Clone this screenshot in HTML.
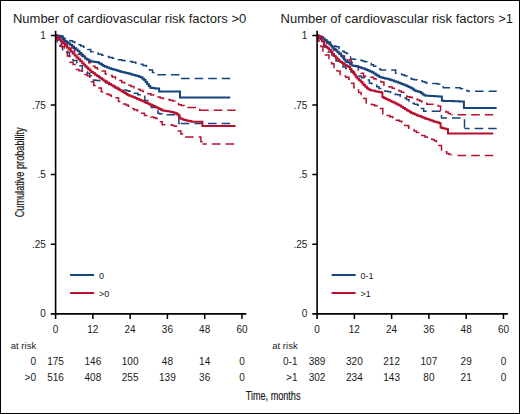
<!DOCTYPE html>
<html><head><meta charset="utf-8"><style>
html,body{margin:0;padding:0;background:#fff;}
svg{display:block;}
text{font-family:"Liberation Sans",sans-serif;fill:#1a1a1a;}
.t10{font-size:10px;}
.t13{font-size:13.05px;}
.t9{font-size:9px;}
.t95{font-size:9.5px;}
.cond{font-size:13.3px;stroke:#1a1a1a;stroke-width:0.2px;}
</style></head><body>
<svg width="520" height="414" viewBox="0 0 520 414">
<rect x="0.5" y="0.5" width="519" height="413" fill="#fff" stroke="#000" stroke-width="1"/>
<g fill="none" stroke-linejoin="miter" stroke-linecap="butt">
<path d="M55.6 35.4H57.2V36.3H60.4V37.3H62.0H63.6V38.5H66.7V39.6H69.8V40.8H71.4H72.5V41.7H74.5V42.6H75.6H77.5V44.8H79.5H80.8V46.0H83.6V47.2H84.9H86.8V49.6H88.7H90.7V51.8H92.6H94.4V53.0H98.2V54.2H100.0H101.8V55.3H105.4V56.4H109.0V57.5H110.8H112.3V58.2H115.5V59.0H118.5V59.7H121.7V60.4H123.2H125.0V61.0H128.6V61.6H132.2V62.2H134.0H135.8V63.3H139.4V64.3H143.0V65.4H144.8H146.4V67.8H149.4V70.1H151.0H152.5V72.4H155.6V74.7H157.1H180.0V78.5" stroke="#15457e" stroke-width="1.5" stroke-dasharray="8.6 5" stroke-dashoffset="8.60"/>
<path d="M180.0 78.5H230.2" stroke="#15457e" stroke-width="1.5" stroke-dasharray="8.6 5" stroke-dashoffset="12.60"/>
<path d="M55.6 35.4H57.2V43.7H58.9H60.1V46.2H61.4H62.6V49.8H63.8H65.7V52.3H67.5H69.3V56.4H73.0V60.5H76.8V64.6H78.6H79.8V65.8H81.1H82.3V70.8H83.5H84.8V72.0H87.2V73.2H88.5H89.7V75.7H90.9H92.2V80.0H93.4H94.6V80.2H96.9V80.5H98.1H99.6V80.8H102.7V81.0H104.2H105.7V82.7H108.7V84.4H110.2H111.7V86.1H114.7V87.8H116.2H117.7V88.6H120.8V89.4H122.3H123.7V90.1H126.6V90.8H128.0H129.1V91.2H131.3V91.7H132.4H134.2V93.2H137.8V94.8H141.4V96.3H143.2H144.8V100.5H147.8V104.8H149.4H151.3V107.5H155.2V110.2H157.1H157.9V113.2H158.7H159.8V114.0H162.2V114.7H163.3H177.0H178.9V123.5H180.8" stroke="#15457e" stroke-width="1.5" stroke-dasharray="8.6 5" stroke-dashoffset="0.00"/>
<path d="M180.8 123.5H230.2" stroke="#15457e" stroke-width="1.5" stroke-dasharray="8.6 5" stroke-dashoffset="0.00"/>
<path d="M55.6 35.4H57.2V37.6H60.3V39.8H63.4V42.0H65.0H66.9V45.0H70.6V47.9H72.5H74.5V51.8H76.4H78.1V54.2H79.8H81.7V56.0H83.5H85.2V59.4H88.7V62.8H92.1V66.2H93.8H95.0V67.7H97.4V69.1H98.6H99.8V70.0H102.2V71.0H103.4H105.3V74.0H107.3H109.0V75.5H112.2V77.0H113.9H115.5V78.8H118.6V80.6H121.7V82.4H123.2H124.7V83.8H127.8V85.2H130.9V86.6H132.4H133.9V87.9H137.1V89.3H140.1V90.6H141.7H142.8V91.5H145.2V92.5H146.3H147.9V93.8H150.9V95.0H152.5H154.1V96.0H157.2V97.0H160.2V98.0H161.8H163.0V98.5H165.2V99.0H166.4H167.6V99.6H169.8V100.2H171.0H172.6V100.9H175.6V101.6H177.2H178.6V104.8H180.0H181.3V105.5H184.1V106.3H185.4H187.4V107.6H189.3H197.8H199.8V110.3H201.7" stroke="#b80f2e" stroke-width="1.5" stroke-dasharray="8.6 5" stroke-dashoffset="0.00"/>
<path d="M201.7 110.3H235.6" stroke="#b80f2e" stroke-width="1.5" stroke-dasharray="8.6 5" stroke-dashoffset="1.60"/>
<path d="M55.6 35.4H56.7V38.7H58.9V42.0H60.0H61.5V46.7H64.4V51.3H67.3V56.0H68.8H70.0V62.2H71.2H73.1V64.6H74.9H76.2V69.5H77.4H78.9V70.8H82.0V72.0H83.5H84.8V74.5H86.0H87.2V75.7H89.7V76.9H90.9H91.4V81.7H91.9H93.8V85.5H95.8H97.7V88.0H99.5H101.3V91.7H103.1H104.2V92.8H106.5V93.9H107.7H108.9V95.1H111.2V96.2H112.4H113.6V97.0H115.8V97.7H117.0H118.5V101.6H120.1H121.2V102.8H123.5V103.9H124.7H125.9V105.1H128.2V106.2H129.3H130.9V108.5H132.4H133.9V109.7H137.1V110.8H138.6H140.6V113.2H142.5H144.4V115.5H146.3H147.9V116.2H150.9V117.0H152.5H153.7V117.8H155.9V118.6H157.1H159.1V121.7H161.0H162.2V124.7H163.3H171.0H172.2V125.5H174.5V126.3H175.7H177.5V130.9H179.3H180.9V134.0H182.4H184.3V137.1H186.2H200.1H200.9V141.7H201.7H202.1V144.0H202.4" stroke="#b80f2e" stroke-width="1.5" stroke-dasharray="8.6 5" stroke-dashoffset="0.00"/>
<path d="M202.4 144.0H235.6" stroke="#b80f2e" stroke-width="1.5" stroke-dasharray="8.6 5" stroke-dashoffset="4.10"/>
<path d="M55.6 35.4H56.4V35.6H57.9V35.8H59.4V36.0H60.9V36.2H61.7H62.7V39.7H63.7H64.6V41.0H66.5V42.3H68.4V43.6H70.3V44.9H71.2H72.1V46.5H74.0V48.0H75.8V49.5H77.7V51.1H78.6H79.5V52.9H81.4V54.8H83.2V56.6H85.1V58.4H86.0H86.9V59.4H88.8V60.4H89.7H90.3V61.0H91.5V61.6H92.1H93.1V61.8H95.1V62.1H97.1V62.3H98.1H98.9V63.2H100.4V64.1H101.9V65.0H103.4V65.9H104.2H105.2V66.7H107.2V67.5H109.2V68.3H110.2H111.2V68.9H113.2V69.5H115.2V70.1H116.2H117.0V70.5H118.5V71.0H120.0V71.5H121.5V71.9H122.3H123.0V72.2H124.5V72.6H126.1V73.0H127.6V73.3H128.3H129.3V73.8H131.3V74.4H133.3V74.9H134.3H135.2V75.5H137.2V76.1H139.1V76.7H140.0H140.8V77.3H141.7H142.5V78.7H144.0V80.1H144.8H145.6V82.0H147.1V84.0H147.9H148.7V85.9H150.2V87.8H151.0H152.0V88.0H153.9V88.2H155.8V88.4H157.7V88.6H158.7H159.1V91.4H159.5H180.0V97.5H230.2" stroke="#15457e" stroke-width="2"/>
<path d="M55.6 35.4H56.2V36.7H57.4V38.0H58.0H59.0V39.8H61.0V41.7H63.0V43.5H64.0H65.0V45.5H66.9V47.5H68.8V49.5H70.8V51.5H72.7V53.5H73.7H74.6V55.4H76.5V57.4H78.4V59.3H80.3V61.3H82.2V63.2H83.1H83.8V64.8H85.3V66.5H86.0H86.8V67.8H88.3V69.2H89.8V70.6H91.3V71.9H92.1H93.1V73.3H95.1V74.7H97.1V76.1H98.1H98.9V77.2H100.4V78.2H101.9V79.3H103.4V80.4H104.2H105.2V81.6H107.2V82.8H109.2V84.0H110.2H111.2V85.2H113.2V86.4H115.2V87.6H116.2H117.0V88.5H118.5V89.4H120.0V90.3H121.5V91.2H122.3H123.0V92.1H124.5V93.1H126.1V94.0H127.6V94.9H128.3H129.3V95.7H131.3V96.5H133.3V97.3H134.3H135.2V98.1H137.2V98.9H139.1V99.7H140.0H140.9V100.5H142.7V101.3H144.5V102.2H146.3V103.0H148.1V103.8H149.0H149.8V104.5H151.6V105.3H153.2V106.0H154.1H154.8V106.7H156.3V107.5H157.8V108.2H158.6H159.4V109.0H161.0V109.8H162.6V110.6H163.4H164.2V110.8H165.9V111.0H167.5V111.3H169.2V111.5H170.0H170.8V111.9H172.3V112.3H173.9V112.8H175.4V113.2H176.2H177.0V114.3H178.5V115.4H179.3H179.7V118.3H180.0H180.9V118.8H182.6V119.4H184.4V120.0H186.1V120.5H187.0H187.8V120.8H189.3V121.1H190.9V121.4H192.4V121.7H193.2H202.4V126.0H235.6" stroke="#b80f2e" stroke-width="2"/>
<path d="M317.1 35.4H319.0V37.4H322.9V39.4H324.8H326.6V42.0H328.5H330.4V45.0H332.2H333.4V45.9H335.9V46.8H337.1H339.0V50.0H340.8H341.9V51.3H344.2V52.6H345.4H346.5V53.5H348.7V54.5H349.8H350.6V59.0H351.3H353.0V59.3H356.3V59.6H358.0H359.4V60.3H362.1V61.0H363.5H364.6V61.7H366.7V62.4H367.8H368.9V63.5H371.2V64.7H372.4H373.6V66.2H375.9V67.8H377.1H378.2V68.9H380.6V70.1H381.7H394.1H395.6V73.2H397.1H398.7V74.0H401.8V74.7H403.3H404.5V75.8H406.8V77.0H408.0H409.1V78.2H411.5V79.3H412.6H414.1V79.7H417.0V80.0H418.5H419.8V80.8H422.4V81.7H423.7H424.8V82.6H426.9V83.5H428.0H435.8H437.3V83.9H440.4V84.3H441.9H443.2V87.8H444.5H459.3H460.4V88.7H462.5V89.5H463.6H464.9V90.4H467.6V91.3H468.9" stroke="#15457e" stroke-width="1.5" stroke-dasharray="8.6 5" stroke-dashoffset="0.00"/>
<path d="M468.9 91.3H496.7" stroke="#15457e" stroke-width="1.5" stroke-dasharray="8.6 5" stroke-dashoffset="7.50"/>
<path d="M317.1 35.4H318.3V38.7H320.8V42.0H322.0H324.0V47.0H328.0V52.0H330.0H332.0V56.5H336.0V61.0H338.0H339.6V64.0H343.0V67.0H344.6H345.8V68.5H348.1V70.1H349.3H351.0V72.0H354.3V74.0H356.0H357.8V75.9H361.4V77.8H363.2H364.4V78.9H366.6V80.1H367.8H369.4V83.2H370.9H372.0V84.0H374.4V84.7H375.5H376.7V86.7H379.0V88.6H380.2H381.4V89.8H383.6V90.9H384.8H385.9V91.3H388.2V91.7H389.4H390.6V92.8H392.9V94.0H394.1H395.2V94.4H397.6V94.8H398.7H400.2V96.3H403.3V97.9H404.9H406.4V99.4H408.0H409.1V101.3H411.5V103.3H412.6H414.3V104.2H417.6V105.2H419.3H420.6V108.6H422.0H423.7V111.2H425.4H441.5V118.1H464.5V128.5" stroke="#15457e" stroke-width="1.5" stroke-dasharray="8.6 5" stroke-dashoffset="0.00"/>
<path d="M464.5 128.5H496.7" stroke="#15457e" stroke-width="1.5" stroke-dasharray="8.6 5" stroke-dashoffset="3.50"/>
<path d="M317.1 35.4H319.1V37.7H323.0V40.0H325.0H326.7V43.3H330.0V46.7H333.3V50.0H335.0H337.0V53.0H341.0V56.0H343.0H344.6V58.0H347.8V60.0H349.4H351.2V62.5H353.1H354.8V66.3H358.3V70.1H360.0H361.2V73.2H363.5V76.3H364.7H366.6V76.8H370.5V77.3H372.4H373.6V78.8H376.0V80.4H377.2H378.4V81.2H380.9V82.0H382.1H383.9V86.4H385.7H387.1V86.7H389.8V87.0H391.1H392.2V88.2H394.3V89.4H395.4H396.6V90.2H399.0V91.0H400.2H401.4V92.3H403.8V93.6H405.0H406.8V96.7H408.6H409.8V97.3H412.3V97.9H413.5H414.7V98.8H417.1V99.7H418.3H419.5V101.0H421.9V102.3H423.1H424.3V103.3H426.8V104.3H428.0H434.1H435.4V105.2H438.0V106.0H439.3H440.6V110.4H441.9H443.2V111.2H445.8V112.1H447.1H448.2V113.4H450.4V114.7H451.5" stroke="#b80f2e" stroke-width="1.5" stroke-dasharray="8.6 5" stroke-dashoffset="0.00"/>
<path d="M451.5 114.7H493.2" stroke="#b80f2e" stroke-width="1.5" stroke-dasharray="8.6 5" stroke-dashoffset="7.50"/>
<path d="M317.1 35.4H318.4V41.0H321.0V46.5H322.3H322.9V53.8H323.5H325.4V55.0H327.2H329.0V60.0H330.9H331.5V63.7H332.2H334.0V67.4H335.8H337.1V71.1H338.3H340.1V74.8H342.0H343.2V76.0H345.7V77.2H346.9H348.9V79.3H350.8H351.6V83.2H352.4H353.9V87.8H355.4H356.4V90.1H358.6V92.4H359.6H361.1V95.4H362.7H363.9V98.5H365.0H366.2V103.9H367.4H368.9V104.3H372.0V104.7H373.5H374.7V105.8H377.0V107.0H378.2H380.1V108.6H382.0H382.8V114.0H383.6H384.8V114.8H387.1V115.5H388.2H389.8V116.7H392.8V117.8H394.4H396.3V120.2H398.2H399.4V121.3H401.7V122.5H402.9H404.8V125.6H406.7H408.6V127.9H410.6H411.8V129.4H414.1V131.0H415.2H416.4V132.5H418.7V134.0H419.9H421.8V135.6H423.7H424.9V137.1H427.2V138.7H428.4H429.6V139.1H432.0V139.5H433.2H434.3V140.8H436.5V142.1H437.6H438.9V145.6H440.2H441.5V150.0H442.8H444.1V151.7H446.7V153.4H448.0H449.1V154.4H451.3V155.5H452.4" stroke="#b80f2e" stroke-width="1.5" stroke-dasharray="8.6 5" stroke-dashoffset="0.00"/>
<path d="M452.4 155.5H493.2" stroke="#b80f2e" stroke-width="1.5" stroke-dasharray="8.6 5" stroke-dashoffset="8.40"/>
<path d="M317.1 35.4H318.0V36.0H319.7V36.6H321.4V37.2H322.3H323.1V38.6H324.6V40.0H326.2V41.4H327.7V42.8H328.5H329.3V44.3H330.8V45.8H332.3V47.4H333.8V48.9H334.6H335.5V50.6H337.4V52.3H339.2V54.0H341.1V55.7H342.0H342.7V57.7H344.1V59.6H345.5V61.6H346.2H347.0V62.0H348.6V62.5H349.4H350.1V64.0H351.6V65.4H352.4H353.1V65.7H354.6V65.9H356.1V66.2H356.8H357.6V66.7H359.2V67.3H360.8V67.8H361.6H362.2V68.2H363.6V68.6H364.2H365.0V69.3H366.7V70.1H368.4V70.8H370.1V71.6H370.9H371.9V72.3H372.8H373.7V73.5H375.6V74.7H377.4V75.8H379.3V77.0H380.2H381.1V77.5H383.0V77.9H384.8V78.4H386.6V78.8H388.5V79.3H389.4H390.3V79.9H392.2V80.5H394.0V81.2H395.9V81.8H397.8V82.4H398.7H399.7V83.2H401.6V84.0H403.5V84.7H405.4V85.5H406.4H407.2V86.3H408.7V87.0H410.3V87.8H411.8V88.6H412.6H413.2V89.5H414.4V90.4H415.0H415.9V91.0H417.6V91.5H419.3V92.1H420.2H421.1V93.3H422.8V94.4H424.5V95.6H425.4H426.4V95.7H428.3V95.8H430.3V95.9H432.2V96.0H434.2V96.2H436.1V96.3H438.1V96.4H440.0V96.5H441.0H441.9V100.8H442.8H443.8V100.9H445.7V100.9H447.6V101.0H449.5V101.1H451.4V101.1H453.4V101.2H455.3V101.2H457.2V101.3H459.1V101.4H461.0V101.4H462.9V101.5H463.9V108.0H496.6" stroke="#15457e" stroke-width="2"/>
<path d="M317.1 35.4H318.1V36.3H320.1V37.2H321.1H322.0V41.2H323.9V45.2H324.8H325.7V46.7H327.4V48.2H329.1V49.7H330.0H330.8V51.8H332.4V53.9H334.0V56.0H334.8H335.6V57.6H337.2V59.2H338.9V60.8H339.7H340.5V61.9H342.1V63.1H343.7V64.2H344.5H345.3V65.2H346.9V66.1H348.5V67.1H349.3H350.0V69.0H351.5V70.9H352.2H352.9V72.8H354.4V74.8H355.1H355.8V76.7H357.3V78.6H358.0H358.9V80.2H360.7V81.8H361.6H362.3V83.4H363.6V85.0H364.3H365.2V86.7H366.9V88.3H367.8H368.4V89.2H369.8V90.0H370.4H371.3V90.4H373.2V90.8H375.1V91.2H376.0H376.6V91.5H377.6V91.8H378.2H379.1V92.1H381.1V92.4H382.0H382.4V97.0H382.8H383.8V98.0H385.7V98.9H387.6V99.8H389.5V100.8H390.5H391.5V101.7H393.4V102.6H395.3V103.5H397.2V104.4H398.2H399.2V105.6H401.1V106.8H403.1V108.1H405.0V109.3H406.0H406.8V110.2H408.3V111.1H409.8V112.0H411.3V112.9H412.1H413.1V113.7H415.1V114.6H417.1V115.4H418.1H418.9V116.0H420.4V116.6H421.9V117.2H423.4V117.8H424.2H425.0V118.4H426.7V119.0H428.4V119.6H430.1V120.2H431.8V120.8H432.6H433.6V121.4H435.4V122.0H437.4V122.6H439.2V123.2H440.2H440.6V127.4H441.1H441.9V127.9H443.5V128.4H445.2V128.8H446.8V129.3H447.6H448.0V133.4H448.3H493.2" stroke="#b80f2e" stroke-width="2"/>
</g>
<path d="M55.60 30.8V318.9M50.80 313.9H246.35" stroke="#000" stroke-width="1.6" fill="none"/>
<path d="M50.80 244.20H55.60M50.80 174.60H55.60M50.80 105.00H55.60M50.80 35.40H55.60M92.87 313.9V318.9M130.14 313.9V318.9M167.41 313.9V318.9M204.68 313.9V318.9M241.95 313.9V318.9" stroke="#000" stroke-width="1.5" fill="none"/>
<text x="45.80" y="317.30" text-anchor="end" class="t10">0</text>
<text x="45.80" y="247.70" text-anchor="end" class="t10">.25</text>
<text x="45.80" y="178.10" text-anchor="end" class="t10">.5</text>
<text x="45.80" y="108.50" text-anchor="end" class="t10">.75</text>
<text x="45.80" y="38.90" text-anchor="end" class="t10">1</text>
<text x="55.60" y="333" text-anchor="middle" class="t10">0</text>
<text x="92.87" y="333" text-anchor="middle" class="t10">12</text>
<text x="130.14" y="333" text-anchor="middle" class="t10">24</text>
<text x="167.41" y="333" text-anchor="middle" class="t10">36</text>
<text x="204.68" y="333" text-anchor="middle" class="t10">48</text>
<text x="241.95" y="333" text-anchor="middle" class="t10">60</text>
<text x="12.90" y="22.6" class="t13" textLength="233.4" lengthAdjust="spacingAndGlyphs">Number of cardiovascular risk factors &gt;0</text>
<path d="M70.10 275H94.10" stroke="#15457e" stroke-width="2"/>
<path d="M70.10 293H94.10" stroke="#b80f2e" stroke-width="2"/>
<text x="98.90" y="278.8" class="t9">0</text>
<text x="98.90" y="296.8" class="t9">&gt;0</text>
<text x="10.80" y="348.6" class="t95">at risk</text>
<text x="36.00" y="365.00" text-anchor="end" class="t10">0</text>
<text x="55.60" y="365.00" text-anchor="middle" class="t10">175</text>
<text x="92.87" y="365.00" text-anchor="middle" class="t10">146</text>
<text x="130.14" y="365.00" text-anchor="middle" class="t10">100</text>
<text x="167.41" y="365.00" text-anchor="middle" class="t10">48</text>
<text x="204.68" y="365.00" text-anchor="middle" class="t10">14</text>
<text x="241.95" y="365.00" text-anchor="middle" class="t10">0</text>
<text x="36.00" y="381.30" text-anchor="end" class="t10">&gt;0</text>
<text x="55.60" y="381.30" text-anchor="middle" class="t10">516</text>
<text x="92.87" y="381.30" text-anchor="middle" class="t10">408</text>
<text x="130.14" y="381.30" text-anchor="middle" class="t10">255</text>
<text x="167.41" y="381.30" text-anchor="middle" class="t10">139</text>
<text x="204.68" y="381.30" text-anchor="middle" class="t10">36</text>
<text x="241.95" y="381.30" text-anchor="middle" class="t10">0</text>
<path d="M317.10 30.8V318.9M312.30 313.9H507.85" stroke="#000" stroke-width="1.6" fill="none"/>
<path d="M312.30 244.20H317.10M312.30 174.60H317.10M312.30 105.00H317.10M312.30 35.40H317.10M354.37 313.9V318.9M391.64 313.9V318.9M428.91 313.9V318.9M466.18 313.9V318.9M503.45 313.9V318.9" stroke="#000" stroke-width="1.5" fill="none"/>
<text x="307.30" y="317.30" text-anchor="end" class="t10">0</text>
<text x="307.30" y="247.70" text-anchor="end" class="t10">.25</text>
<text x="307.30" y="178.10" text-anchor="end" class="t10">.5</text>
<text x="307.30" y="108.50" text-anchor="end" class="t10">.75</text>
<text x="307.30" y="38.90" text-anchor="end" class="t10">1</text>
<text x="317.10" y="333" text-anchor="middle" class="t10">0</text>
<text x="354.37" y="333" text-anchor="middle" class="t10">12</text>
<text x="391.64" y="333" text-anchor="middle" class="t10">24</text>
<text x="428.91" y="333" text-anchor="middle" class="t10">36</text>
<text x="466.18" y="333" text-anchor="middle" class="t10">48</text>
<text x="503.45" y="333" text-anchor="middle" class="t10">60</text>
<text x="280.60" y="22.6" class="t13" textLength="232.4" lengthAdjust="spacingAndGlyphs">Number of cardiovascular risk factors &gt;1</text>
<path d="M331.60 275H355.60" stroke="#15457e" stroke-width="2"/>
<path d="M331.60 293H355.60" stroke="#b80f2e" stroke-width="2"/>
<text x="360.40" y="278.8" class="t9">0-1</text>
<text x="360.40" y="296.8" class="t9">&gt;1</text>
<text x="272.30" y="348.6" class="t95">at risk</text>
<text x="297.50" y="365.00" text-anchor="end" class="t10">0-1</text>
<text x="317.10" y="365.00" text-anchor="middle" class="t10">389</text>
<text x="354.37" y="365.00" text-anchor="middle" class="t10">320</text>
<text x="391.64" y="365.00" text-anchor="middle" class="t10">212</text>
<text x="428.91" y="365.00" text-anchor="middle" class="t10">107</text>
<text x="466.18" y="365.00" text-anchor="middle" class="t10">29</text>
<text x="503.45" y="365.00" text-anchor="middle" class="t10">0</text>
<text x="297.50" y="381.30" text-anchor="end" class="t10">&gt;1</text>
<text x="317.10" y="381.30" text-anchor="middle" class="t10">302</text>
<text x="354.37" y="381.30" text-anchor="middle" class="t10">234</text>
<text x="391.64" y="381.30" text-anchor="middle" class="t10">143</text>
<text x="428.91" y="381.30" text-anchor="middle" class="t10">80</text>
<text x="466.18" y="381.30" text-anchor="middle" class="t10">21</text>
<text x="503.45" y="381.30" text-anchor="middle" class="t10">0</text>
<text class="cond" transform="translate(23.6 172.3) rotate(-90) scale(0.688 1)" text-anchor="middle">Cumulative probability</text>
<text class="cond" transform="translate(273.1 399.75) scale(0.685 1)" text-anchor="middle">Time, months</text>
</svg>
</body></html>
